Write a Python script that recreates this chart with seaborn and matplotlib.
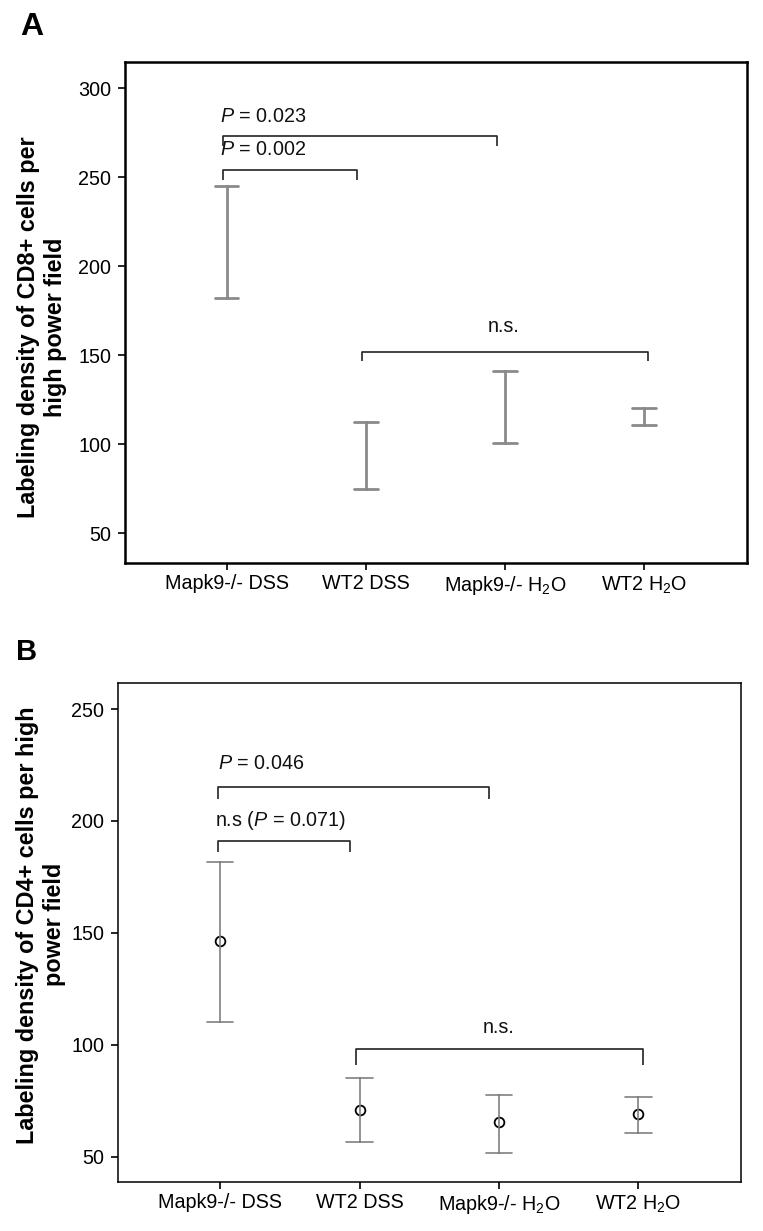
import numpy as np
import pandas as pd
import matplotlib
matplotlib.use("Agg")
import matplotlib.pyplot as plt
import seaborn as sns

# ---------------- data ----------------
groups = ["Mapk9-/- DSS", "WT2 DSS", "Mapk9-/- H$_2$O", "WT2 H$_2$O"]

# Panel A (CD8+): error-bar lower / upper ends (no centre marker shown)
cd8_low = [182.2, 74.9, 100.7, 110.7]
cd8_high = [245.1, 112.5, 141.2, 120.2]

# Panel B (CD4+): mean and error-bar ends
cd4_mean = [146.6, 71.0, 65.5, 68.9]
cd4_low = [110.4, 56.4, 51.6, 60.5]
cd4_high = [181.7, 85.1, 77.8, 76.8]

cd8_ticks = [50, 100, 150, 200, 250, 300]
cd4_ticks = [50, 100, 150, 200, 250]

# significance brackets: (group from, group to, height, label)
cd8_brackets = [(0, 2, 273.4, "$\\mathit{P}$ = 0.023"),
                (0, 1, 254.3, "$\\mathit{P}$ = 0.002"),
                (1, 3, 152.0, "n.s.")]
cd4_brackets = [(0, 2, 215.3, "$\\mathit{P}$ = 0.046"),
                (0, 1, 191.2, "n.s ($\\mathit{P}$ = 0.071)"),
                (1, 3, 98.2, "n.s.")]

# ---------------- style ----------------
sns.set_theme(style="ticks")
plt.rcParams["font.family"] = ["Liberation Sans", "DejaVu Sans"]
plt.rcParams["mathtext.fontset"] = "custom"
plt.rcParams["mathtext.rm"] = "Liberation Sans"
plt.rcParams["mathtext.it"] = "Liberation Sans:italic"
plt.rcParams["mathtext.bf"] = "Liberation Sans:bold"
for k in ["text.color", "axes.labelcolor", "xtick.color", "ytick.color",
          "axes.edgecolor"]:
    plt.rcParams[k] = "black"

FS = 14.2
LFS = 16.8
dfA = pd.DataFrame({
    "group": np.repeat(groups, 2),
    "value": np.ravel(np.column_stack([cd8_low, cd8_high])),
})
dfB = pd.DataFrame({
    "group": np.repeat(groups, 3),
    "value": np.ravel(np.column_stack([cd4_low, cd4_mean, cd4_high])),
})

fig = plt.figure(figsize=(7.63, 12.31), dpi=100)
axA = fig.add_axes([0.1638, 0.5424, 0.9786 - 0.1638, 0.9496 - 0.5424])
axB = fig.add_axes([0.1550, 0.0396, 0.9712 - 0.1550, 0.4449 - 0.0396])

minmax = lambda v: (v.min(), v.max())

sns.pointplot(data=dfA, x="group", y="value", order=groups, estimator="median",
              errorbar=minmax, capsize=0.17, linestyle="none", marker="",
              color="#8a8a8a", err_kws={"color": "#8a8a8a", "linewidth": 2.0},
              ax=axA)
sns.pointplot(data=dfB, x="group", y="value", order=groups, estimator="median",
              errorbar=minmax, capsize=0.19, linestyle="none", marker="o",
              markersize=7, markerfacecolor="white", markeredgecolor="black",
              markeredgewidth=1.3, color="black",
              err_kws={"color": "#808080", "linewidth": 1.2}, ax=axB)


def bracket(ax, x1, x2, y, drop, label, off_l, off_r, tx, ty, ha):
    ax.plot([x1 + off_l, x1 + off_l, x2 + off_r, x2 + off_r],
            [y - drop, y, y, y - drop], color="#222222", lw=1.2,
            solid_capstyle="butt", clip_on=False)
    ax.text(tx, ty, label, ha=ha, va="center", fontsize=FS, color="#111111")


def style(ax, ticks, ylim, spine_lw, ylabel, lab_x, lab_y):
    ax.set_xlim(-0.73, 3.736)
    ax.set_ylim(*ylim)
    ax.set_yticks(ticks)
    ax.set_xlabel("")
    ax.set_ylabel(ylabel, fontsize=LFS, fontweight="bold", linespacing=1.2)
    ax.yaxis.set_label_coords(lab_x, lab_y)
    for s in ax.spines.values():
        s.set_visible(True)
        s.set_linewidth(spine_lw)
        s.set_color("black")
    ax.tick_params(axis="both", direction="out", length=5, width=1.2,
                   labelsize=FS, color="black", labelcolor="black")
    ax.tick_params(axis="y", pad=5)
    ax.tick_params(axis="x", pad=3)
    ax.grid(False)


style(axA, cd8_ticks, (33.1, 314.8), 1.8,
      "Labeling density of CD8+ cells per\nhigh power field", -0.094, 0.471)
style(axB, cd4_ticks, (38.6, 261.5), 1.1,
      "Labeling density of CD4+ cells per high\npower field", -0.084, 0.516)

# brackets panel A
(a0, a1, ay, al), (b0, b1, by, bl), (c0, c1, cy, cl) = cd8_brackets
bracket(axA, a0, a1, ay, 6, al, -0.027, -0.06, -0.05, 284.4, "left")
bracket(axA, b0, b1, by, 6, bl, -0.027, -0.066, -0.05, 265.7, "left")
bracket(axA, c0, c1, cy, 5, cl, -0.03, 0.03, 1.99, 166.0, "center")

# brackets panel B
(a0, a1, ay, al), (b0, b1, by, bl), (c0, c1, cy, cl) = cd4_brackets
bracket(axB, a0, a1, ay, 5.5, al, -0.014, -0.07, -0.014, 225.7, "left")
bracket(axB, b0, b1, by, 5.2, bl, -0.014, -0.07, -0.035, 200.0, "left")
bracket(axB, c0, c1, cy, 7, cl, -0.024, 0.03, 2.0, 107.7, "center")

fig.text(20 / 763, 1 - 27 / 1231, "A", fontsize=23, fontweight="bold",
         ha="left", va="center")
fig.text(16 / 763, 1 - 652 / 1231, "B", fontsize=21, fontweight="bold",
         ha="left", va="center")

fig.savefig("out.png", dpi=100)
